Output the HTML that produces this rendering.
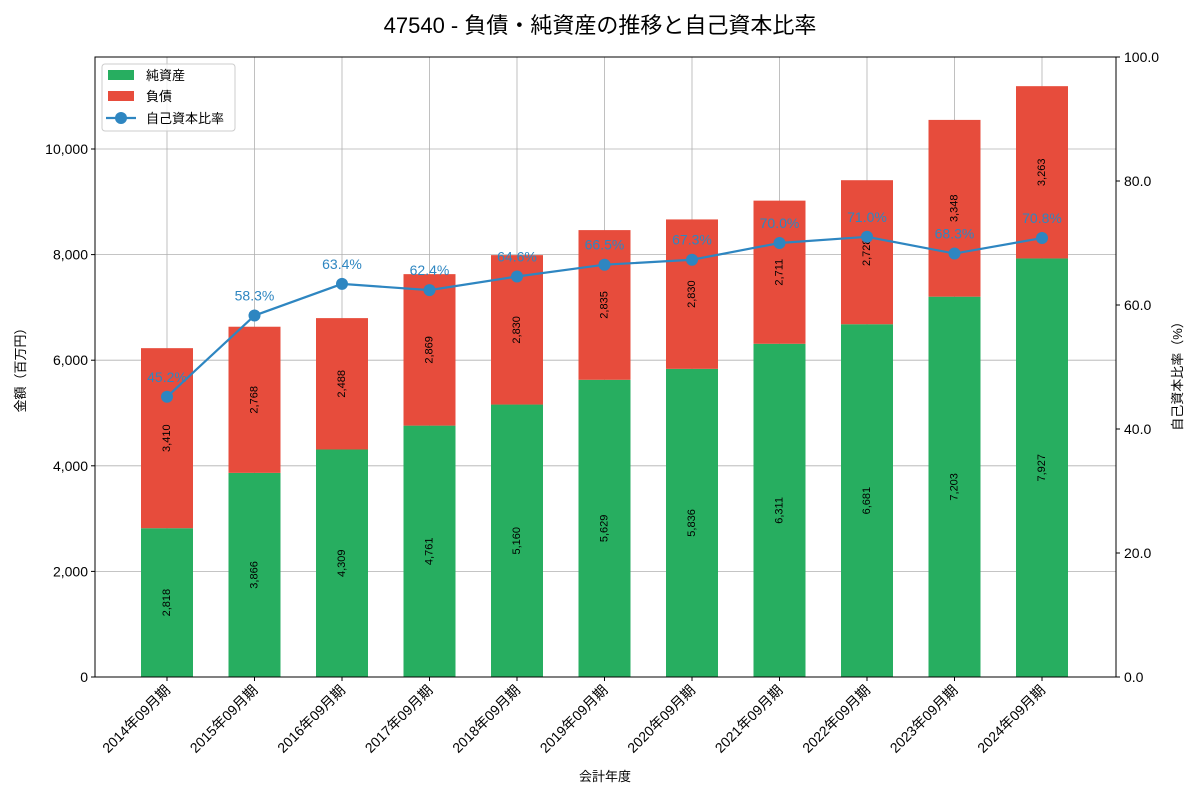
<!DOCTYPE html>
<html><head><meta charset="utf-8"><style>
body{margin:0;background:#fff;}
svg text{font-family:"Liberation Sans","Noto Sans CJK JP",sans-serif;}
</style></head><body>
<svg id="c" width="1200" height="800" xmlns="http://www.w3.org/2000/svg"></svg>
<script>
const categories=["2014年09月期","2015年09月期","2016年09月期","2017年09月期","2018年09月期","2019年09月期","2020年09月期","2021年09月期","2022年09月期","2023年09月期","2024年09月期"];
const netAssets=[2818,3866,4309,4761,5160,5629,5836,6311,6681,7203,7927];
const liabilities=[3410,2768,2488,2869,2830,2835,2830,2711,2728,3348,3263];
const equityRatio=[45.2,58.3,63.4,62.4,64.6,66.5,67.3,70.0,71.0,68.3,70.8];
const leftTicks=[0,2000,4000,6000,8000,10000];
const rightTicks=[0,20,40,60,80,100];

const svg=document.getElementById('c');
const NS='http://www.w3.org/2000/svg';
const L=95,R=1116,T=57,B=677;
const yL=v=>B-v*0.0528;
const yR=v=>B-v/100*(B-T);
const xC=i=>167+87.5*i;
const bw=52;
function el(tag,attrs,parent){const e=document.createElementNS(NS,tag);for(const k in attrs)e.setAttribute(k,attrs[k]);(parent||svg).appendChild(e);return e;}
function txt(s,attrs,parent){const e=el('text',attrs,parent);e.textContent=s;return e;}

const title=txt('47540 - 負債・純資産の推移と自己資本比率',{x:600,y:33,'font-size':22,'text-anchor':'middle',fill:'#000'});



const grid=el('g',{});


categories.forEach((c,i)=>{el('line',{x1:xC(i),x2:xC(i),y1:T,y2:B,stroke:'#b0b0b0','stroke-width':0.8},grid);});
leftTicks.forEach(v=>{el('line',{x1:L,x2:R,y1:yL(v),y2:yL(v),stroke:'#b0b0b0','stroke-width':0.8},grid);});

const bars=el('g',{});


categories.forEach((c,i)=>{
  const x=xC(i)-bw/2;
  const g=el('rect',{x:x,y:yL(netAssets[i]),width:bw,height:yL(0)-yL(netAssets[i]),fill:'#27ae60'},bars);
  
  
  const top=netAssets[i]+liabilities[i];
  const r=el('rect',{x:x,y:yL(top),width:bw,height:yL(netAssets[i])-yL(top),fill:'#e74c3c'},bars);
  
  
  const my1=(yL(0)+yL(netAssets[i]))/2, my2=(yL(netAssets[i])+yL(top))/2;
  const t1=txt(netAssets[i].toLocaleString('en-US'),{x:xC(i),y:my1,'font-size':11,'text-anchor':'middle','dominant-baseline':'central',transform:`rotate(-90 ${xC(i)} ${my1})`},bars);
  
  
  const t2=txt(liabilities[i].toLocaleString('en-US'),{x:xC(i),y:my2,'font-size':11,'text-anchor':'middle','dominant-baseline':'central',transform:`rotate(-90 ${xC(i)} ${my2})`},bars);
  
  
});

const line=el('g',{});


const pts=equityRatio.map((v,i)=>xC(i)+','+yR(v)).join(' ');
el('polyline',{points:pts,fill:'none',stroke:'#2e86c1','stroke-width':2.2},line);
equityRatio.forEach((v,i)=>{
  const p=el('circle',{cx:xC(i),cy:yR(v),r:6,fill:'#2e86c1'},line);
  
  
  const t=txt(v.toFixed(1)+'%',{x:xC(i),y:yR(v)-15,'font-size':14,'text-anchor':'middle',fill:'#2e86c1'},line);
  
  
});

el('rect',{x:L,y:T,width:R-L,height:B-T,fill:'none',stroke:'#000','stroke-width':1});

const ax=el('g',{});


leftTicks.forEach(v=>{el('line',{x1:L-4,x2:L,y1:yL(v),y2:yL(v),stroke:'#000'},ax);txt(v.toLocaleString('en-US'),{x:L-7,y:yL(v)+5,'font-size':14,'text-anchor':'end'},ax);});
const yt=txt('金額（百万円）',{x:25,y:367,'font-size':13,'text-anchor':'middle',transform:'rotate(-90 25 367)'});



const ar=el('g',{});


rightTicks.forEach(v=>{el('line',{x1:R,x2:R+4,y1:yR(v),y2:yR(v),stroke:'#000'},ar);txt(v.toFixed(1),{x:R+8,y:yR(v)+5,'font-size':14},ar);});
const rt=txt('自己資本比率（%）',{x:1182,y:373,'font-size':13,'text-anchor':'middle',transform:'rotate(-90 1182 373)'});



const xa=el('g',{});


categories.forEach((c,i)=>{el('line',{x1:xC(i),x2:xC(i),y1:B,y2:B+4,stroke:'#000'},xa);txt(c,{x:xC(i)+4,y:B+14,'font-size':14,'text-anchor':'end',transform:`rotate(-45 ${xC(i)+4} ${B+14})`},xa);});
const xt=txt('会計年度',{x:605,y:781,'font-size':13,'text-anchor':'middle'});



const lg=el('g',{});


el('rect',{x:102,y:64,width:133,height:67,fill:'#fff','fill-opacity':0.8,stroke:'#ccc',rx:3},lg);
el('rect',{x:108,y:70,width:26,height:10,fill:'#27ae60'},lg);
txt('純資産',{x:146,y:80,'font-size':13},lg);
el('rect',{x:108,y:91,width:26,height:10,fill:'#e74c3c'},lg);
txt('負債',{x:146,y:101,'font-size':13},lg);
el('line',{x1:106,x2:136,y1:118,y2:118,stroke:'#2e86c1','stroke-width':2.2},lg);
el('circle',{cx:121,cy:118,r:6,fill:'#2e86c1'},lg);
txt('自己資本比率',{x:146,y:123,'font-size':13},lg);
</script>
</body></html>
